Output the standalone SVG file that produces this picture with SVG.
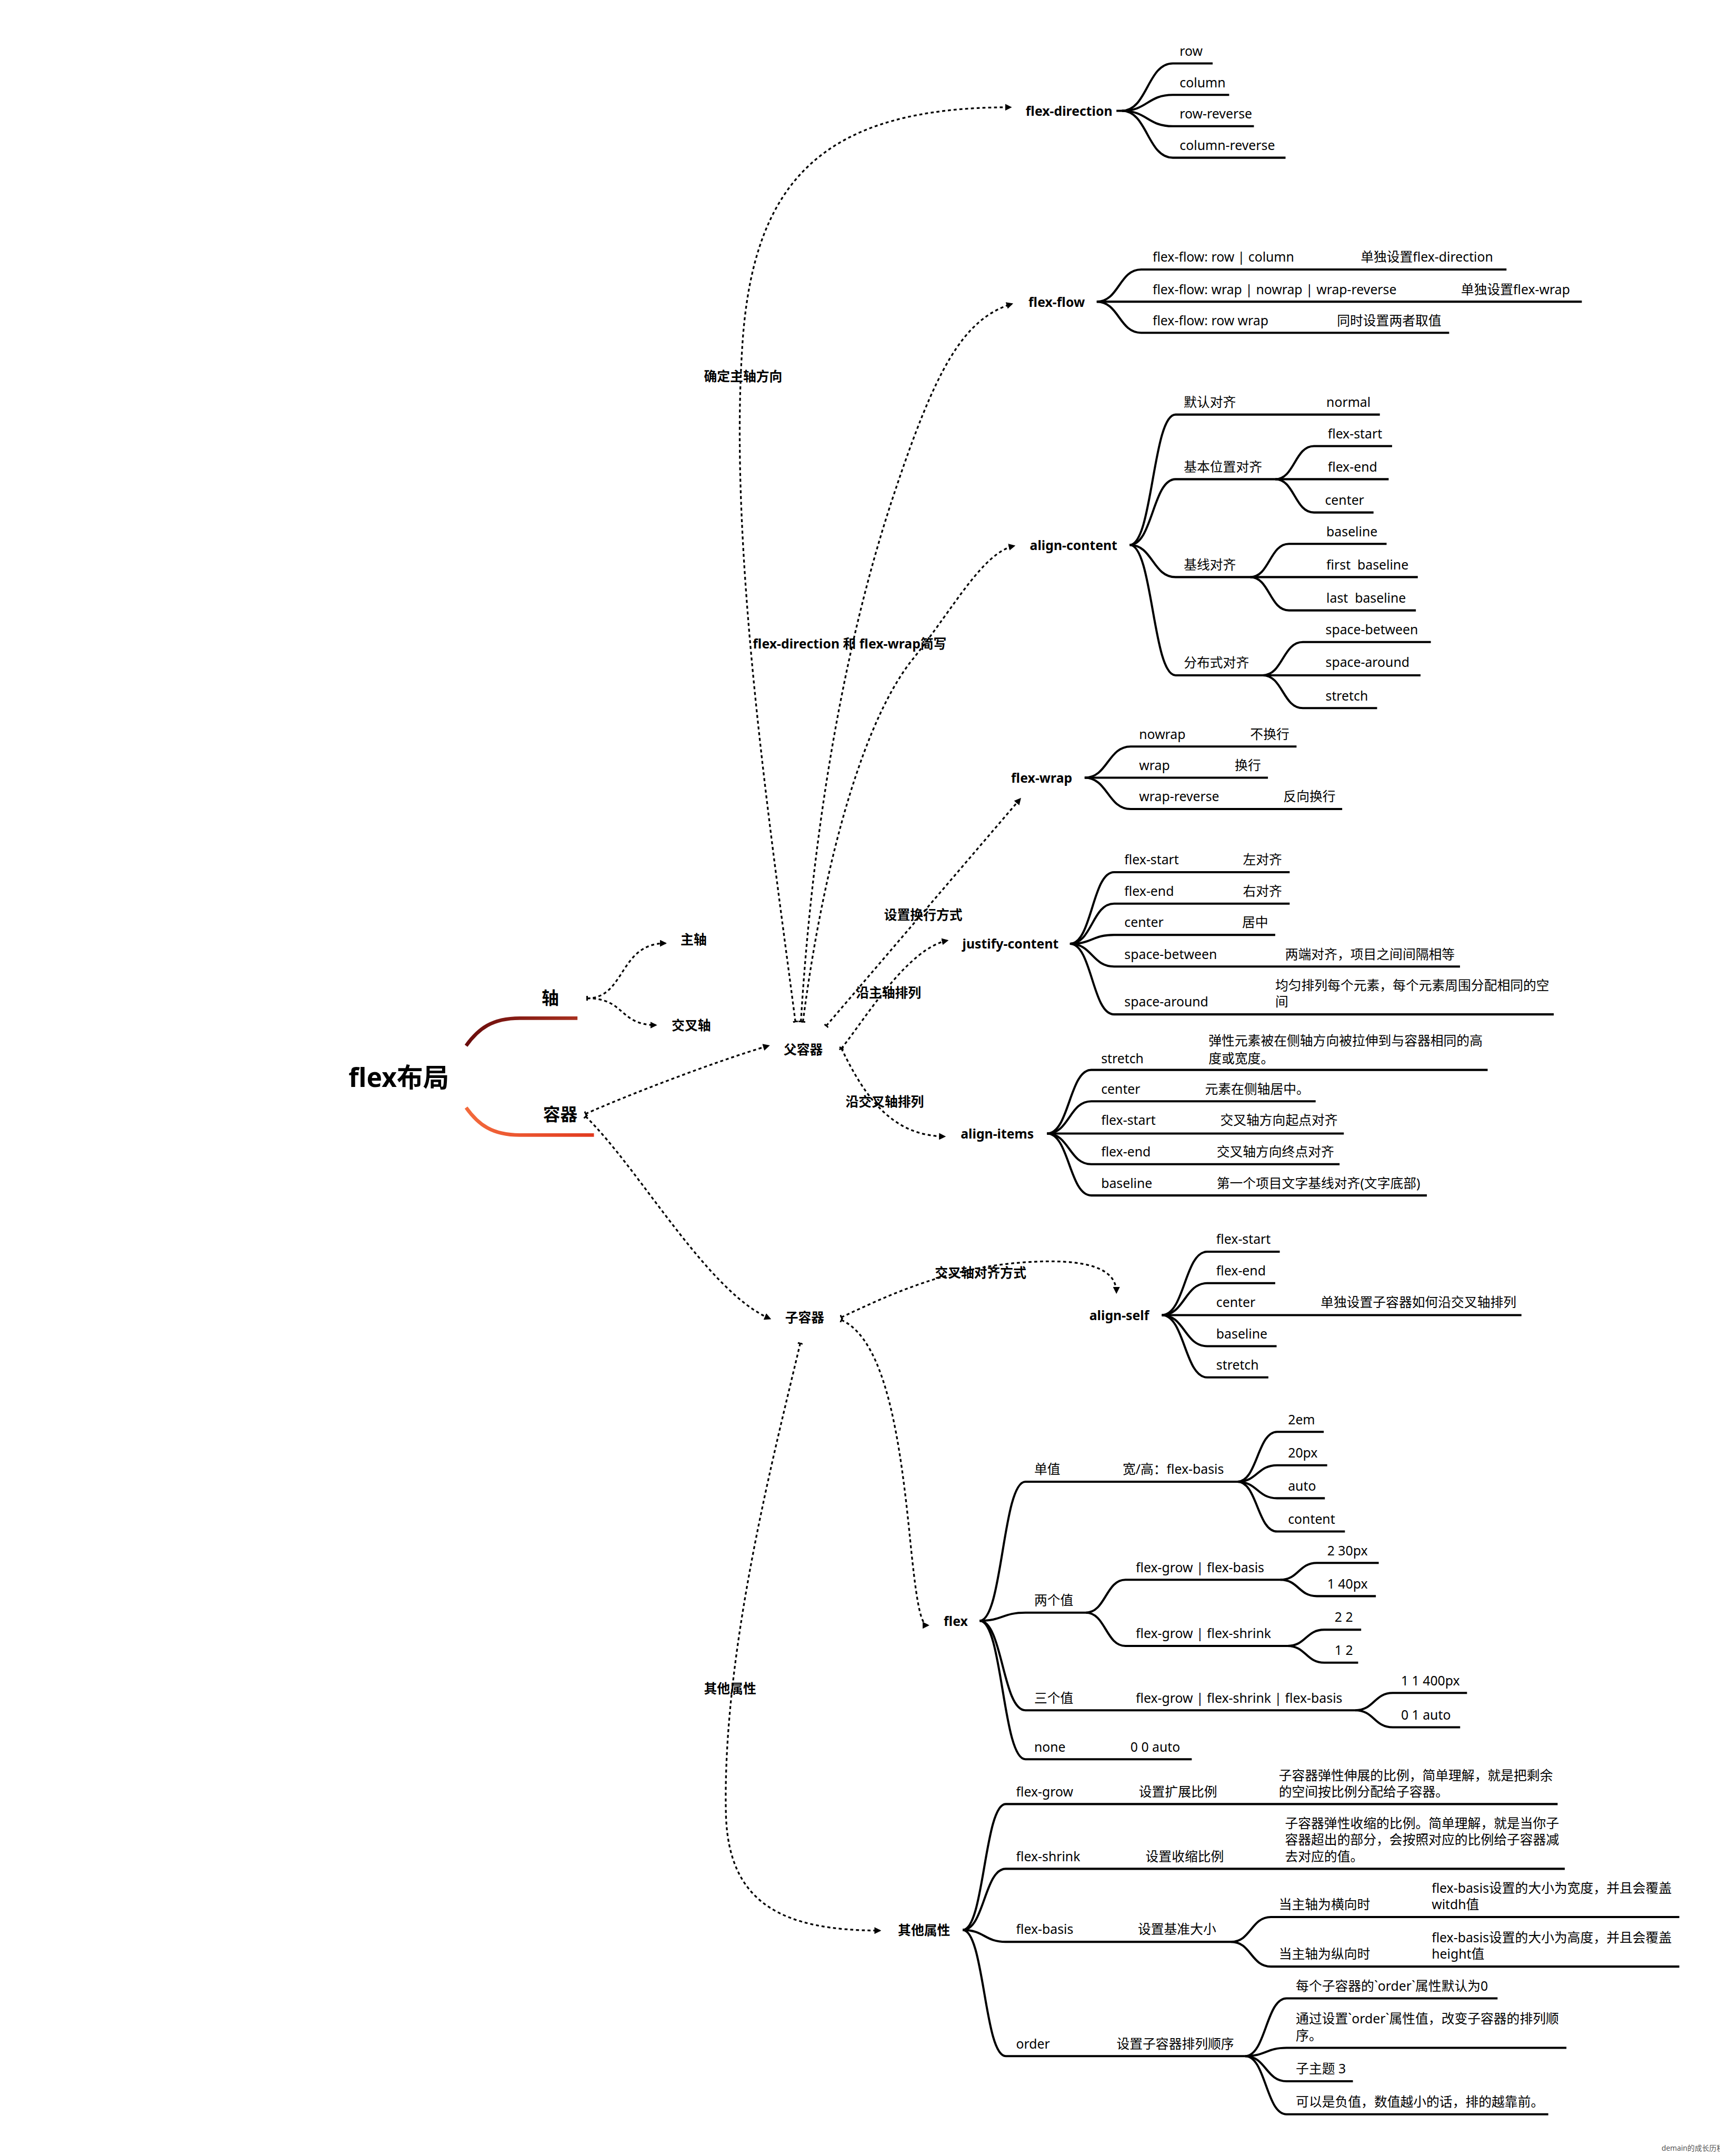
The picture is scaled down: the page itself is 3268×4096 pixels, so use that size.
<svg xmlns="http://www.w3.org/2000/svg" width="3268" height="4096" viewBox="0 0 3268 4096">
<defs>
<style>
.t{font-family:"Noto Sans","Noto Sans CJK SC",sans-serif;font-size:9.5px;fill:#000}
.b{font-weight:700}
.br{fill:none;stroke:#000;stroke-width:1.55;stroke-linecap:butt}
.rel{fill:none;stroke:#000;stroke-width:1.25;stroke-dasharray:2.2 2;marker-start:url(#tick);marker-end:url(#arr)}
</style>
<marker id="arr" viewBox="0 0 10 10" refX="8" refY="5" markerWidth="5" markerHeight="5" markerUnits="userSpaceOnUse" orient="auto"><path d="M0,0 L10,5 L0,10 z" fill="#000"/></marker>
<marker id="tick" viewBox="-1 -3 2 6" refX="0" refY="0" markerWidth="1.2" markerHeight="3.6" markerUnits="userSpaceOnUse" orient="auto"><rect x="-1" y="-3" width="2" height="6" fill="#000"/></marker>
<linearGradient id="gU" x1="0" y1="0" x2="1" y2="0"><stop offset="0" stop-color="#6a0c0c"/><stop offset="1" stop-color="#a8301f"/></linearGradient>
<linearGradient id="gL" x1="0" y1="0" x2="1" y2="0"><stop offset="0" stop-color="#f36a3c"/><stop offset="1" stop-color="#e13a1f"/></linearGradient>
</defs>
<rect width="3268" height="4096" fill="#fff"/>
<g transform="scale(2.61231)">
<g id="connectors">
<path d="M339,760.5 C348,748 358,740.5 378,740.5 L420,740.5" fill="none" stroke="url(#gU)" stroke-width="2.6"/>
<path d="M339,805.5 C348,818 358,825.5 378,825.5 L432,825.5" fill="none" stroke="url(#gL)" stroke-width="2.6"/>
<g id="relations">
<path class="rel" d="M427,726 C455,726 450,686 484,686"/>
<path class="rel" d="M427,726 C455,726 450,745.5 477,745.5"/>
<path class="rel" d="M426,810 C455,797 520,772 559,760.5"/>
<path class="rel" d="M426,812 C465,850 515,940 560,959"/>
<path class="rel" d="M578.5,743 C560,600 530,400 540,250 C548,130 600,78 735,78"/>
<path class="rel" d="M582.5,743 C590,620 610,480 650,360 C680,270 700,232 736,221"/>
<path class="rel" d="M584,743 C600,620 630,520 665,478 C695,440 715,402 737.6,397"/>
<path class="rel" d="M601,746 L742,581"/>
<path class="rel" d="M612,762.5 C630,740 660,690 689,684"/>
<path class="rel" d="M612,762.5 C630,800 650,826 687,826.5"/>
<path class="rel" d="M612,958 C650,940 690,922 745,918 C790,915 812,922 812,940"/>
<path class="rel" d="M612,960 C645,975 655,1050 662,1120 C667,1170 670,1182 675,1182"/>
<path class="rel" d="M582,977 C565,1050 525,1200 528,1320 C530,1385 570,1404 640,1404"/>
</g>
<g id="branches">
<path class="br" d="M812,80.6H816"/>
<path class="br" d="M816,80.6C834.5,80.6 834.5,46.1 853,46.1H882"/>
<path class="br" d="M816,80.6C834.5,80.6 834.5,69 853,69H894"/>
<path class="br" d="M816,80.6C834.5,80.6 834.5,91.8 853,91.8H912"/>
<path class="br" d="M816,80.6C834.5,80.6 834.5,114.7 853,114.7H935"/>

<path class="br" d="M797.7,219.4C813.9,219.4 813.9,196 830,196H1095.7"/>
<path class="br" d="M797.7,219.4H1150.5"/>
<path class="br" d="M797.7,219.4C813.9,219.4 813.9,242 830,242H1054"/>

<path class="br" d="M821.7,396.3C838.4,396.3 838.4,301.5 855,301.5H1003.6"/>
<path class="br" d="M821.7,396.3C838.4,396.3 838.4,348.5 855,348.5H927.5"/>
<path class="br" d="M821.7,396.3C838.4,396.3 838.4,419.7 855,419.7H909.3"/>
<path class="br" d="M821.7,396.3C838.4,396.3 838.4,491.1 855,491.1H918.4"/>
<path class="br" d="M927.5,348.5C941.6,348.5 941.6,324.4 955.7,324.4H1012.5"/>
<path class="br" d="M927.5,348.5H1010"/>
<path class="br" d="M927.5,348.5C941.6,348.5 941.6,372.7 955.7,372.7H999"/>
<path class="br" d="M909.3,419.7C923.4,419.7 923.4,395.5 937.5,395.5H1008.5"/>
<path class="br" d="M909.3,419.7H1031.2"/>
<path class="br" d="M909.3,419.7C923.4,419.7 923.4,443.9 937.5,443.9H1029.8"/>
<path class="br" d="M918.4,491.1C933,491.1 933,466.9 947.6,466.9H1040.7"/>
<path class="br" d="M918.4,491.1H1033.2"/>
<path class="br" d="M918.4,491.1C933,491.1 933,515 947.6,515H1001.6"/>

<path class="br" d="M788.9,565.6C805.7,565.6 805.7,542.9 822.4,542.9H943"/>
<path class="br" d="M788.9,565.6H922.2"/>
<path class="br" d="M788.9,565.6C805.7,565.6 805.7,588.4 822.4,588.4H976.2"/>

<path class="br" d="M778.2,686.4C794.3,686.4 794.3,634.3 810.3,634.3H938"/>
<path class="br" d="M778.2,686.4C794.3,686.4 794.3,657.2 810.3,657.2H938"/>
<path class="br" d="M778.2,686.4C794.3,686.4 794.3,679.9 810.3,679.9H927.5"/>
<path class="br" d="M778.2,686.4C794.3,686.4 794.3,702.9 810.3,702.9H1061.9"/>
<path class="br" d="M778.2,686.4C794.3,686.4 794.3,737.7 810.3,737.7H1130.1"/>

<path class="br" d="M761.6,824.4C777.7,824.4 777.7,778.1 793.7,778.1H1082"/>
<path class="br" d="M761.6,824.4C777.7,824.4 777.7,800.9 793.7,800.9H956.9"/>
<path class="br" d="M761.6,824.4H977.4"/>
<path class="br" d="M761.6,824.4C777.7,824.4 777.7,846.7 793.7,846.7H974.3"/>
<path class="br" d="M761.6,824.4C777.7,824.4 777.7,869.4 793.7,869.4H1037.8"/>

<path class="br" d="M845.1,956.4C861.6,956.4 861.6,910.3 878,910.3H930.8"/>
<path class="br" d="M845.1,956.4C861.6,956.4 861.6,933.2 878,933.2H927.5"/>
<path class="br" d="M845.1,956.4H1106.6"/>
<path class="br" d="M845.1,956.4C861.6,956.4 861.6,979 878,979H928.5"/>
<path class="br" d="M845.1,956.4C861.6,956.4 861.6,1001.7 878,1001.7H922.5"/>

<path class="br" d="M712.6,1178.7C729.2,1178.7 729.2,1077.6 745.8,1077.6H900"/>
<path class="br" d="M712.6,1178.7C729.2,1178.7 729.2,1172.8 745.8,1172.8H789.7"/>
<path class="br" d="M712.6,1178.7C729.2,1178.7 729.2,1243.8 745.8,1243.8H985.7"/>
<path class="br" d="M712.6,1178.7C729.2,1178.7 729.2,1279.4 745.8,1279.4H866.8"/>
<path class="br" d="M900,1077.6C914.5,1077.6 914.5,1041.3 928.9,1041.3H962.8"/>
<path class="br" d="M900,1077.6C914.5,1077.6 914.5,1065.6 928.9,1065.6H965.3"/>
<path class="br" d="M900,1077.6C914.5,1077.6 914.5,1089.6 928.9,1089.6H963.6"/>
<path class="br" d="M900,1077.6C914.5,1077.6 914.5,1113.8 928.9,1113.8H978.2"/>
<path class="br" d="M789.7,1172.8C804.2,1172.8 804.2,1148.9 818.6,1148.9H931.1"/>
<path class="br" d="M789.7,1172.8C804.2,1172.8 804.2,1197 818.6,1197H936.4"/>
<path class="br" d="M931.1,1148.9C944.5,1148.9 944.5,1136.6 957.8,1136.6H1002.8"/>
<path class="br" d="M931.1,1148.9C944.5,1148.9 944.5,1160.8 957.8,1160.8H1000.7"/>
<path class="br" d="M936.4,1197C949.8,1197 949.8,1185.2 963.2,1185.2H990"/>
<path class="br" d="M936.4,1197C949.8,1197 949.8,1209.2 963.2,1209.2H987.8"/>
<path class="br" d="M985.7,1243.8C999.4,1243.8 999.4,1231.2 1013,1231.2H1067"/>
<path class="br" d="M985.7,1243.8C999.4,1243.8 999.4,1256.2 1013,1256.2H1062"/>

<path class="br" d="M700.2,1403.6C715.9,1403.6 715.9,1312 731.5,1312H1132.9"/>
<path class="br" d="M700.2,1403.6C715.9,1403.6 715.9,1359.1 731.5,1359.1H1138.1"/>
<path class="br" d="M700.2,1403.6C715.9,1403.6 715.9,1412.2 731.5,1412.2H895.4"/>
<path class="br" d="M700.2,1403.6C715.9,1403.6 715.9,1495.3 731.5,1495.3H905.6"/>
<path class="br" d="M895.4,1412.2C909.9,1412.2 909.9,1394.2 924.4,1394.2H1221.4"/>
<path class="br" d="M895.4,1412.2C909.9,1412.2 909.9,1430.2 924.4,1430.2H1221.4"/>
<path class="br" d="M905.6,1495.3C920.7,1495.3 920.7,1453.3 935.8,1453.3H1089.2"/>
<path class="br" d="M905.6,1495.3C920.7,1495.3 920.7,1489.3 935.8,1489.3H1139.3"/>
<path class="br" d="M905.6,1495.3C920.7,1495.3 920.7,1513.6 935.8,1513.6H984"/>
<path class="br" d="M905.6,1495.3C920.7,1495.3 920.7,1537.6 935.8,1537.6H1126.1"/>
</g>
</g>

<g id="labels">
<text class="t b" x="512" y="277.1">确定主轴方向</text>
<text class="t b" x="547.5" y="471.6">flex-direction 和 flex-wrap简写</text>
<text class="t b" x="643" y="668.6">设置换行方式</text>
<text class="t b" x="622.5" y="725.6">沿主轴排列</text>
<text class="t b" x="615" y="804.6">沿交叉轴排列</text>
<text class="t b" x="680" y="929.1">交叉轴对齐方式</text>
<text class="t b" x="512" y="1231.6">其他属性</text>
</g>

<g id="n-root"><text class="t b" x="253.5" y="790.5" style="font-size:19px">flex布局</text></g>
<g id="n-axis"><text class="t b" x="394" y="730.3" style="font-size:12.5px">轴</text></g>
<g id="n-container"><text class="t b" x="395" y="814.8" style="font-size:12.5px">容器</text></g>
<g id="n-main-axis"><text class="t b" x="495" y="686.6">主轴</text></g>
<g id="n-cross-axis"><text class="t b" x="488.5" y="749.1">交叉轴</text></g>
<g id="n-parent"><text class="t b" x="570" y="766.6">父容器</text></g>
<g id="n-child"><text class="t b" x="571" y="961.6">子容器</text></g>

<g id="n-flex-direction">
<text class="t b" x="746" y="84.2">flex-direction</text>
<text class="t" x="858" y="40.5">row</text>
<text class="t" x="858" y="63.4">column</text>
<text class="t" x="858" y="86.2">row-reverse</text>
<text class="t" x="858" y="109.1">column-reverse</text>
</g>

<g id="n-flex-flow">
<text class="t b" x="748" y="223">flex-flow</text>
<text class="t" x="838.3" y="190.4">flex-flow: row | column</text>
<text class="t" x="989.6" y="190.4">单独设置flex-direction</text>
<text class="t" x="838.3" y="213.8">flex-flow: wrap | nowrap | wrap-reverse</text>
<text class="t" x="1062.6" y="213.8">单独设置flex-wrap</text>
<text class="t" x="838.3" y="236.4">flex-flow: row wrap</text>
<text class="t" x="972.4" y="236.4">同时设置两者取值</text>
</g>

<g id="n-align-content">
<text class="t b" x="749" y="399.9">align-content</text>
<text class="t" x="861" y="295.9">默认对齐</text>
<text class="t" x="964.7" y="295.9">normal</text>
<text class="t" x="861" y="342.9">基本位置对齐</text>
<text class="t" x="965.7" y="318.8">flex-start</text>
<text class="t" x="965.7" y="342.9">flex-end</text>
<text class="t" x="963.7" y="367.1">center</text>
<text class="t" x="861" y="414.1">基线对齐</text>
<text class="t" x="964.7" y="389.9">baseline</text>
<text class="t" x="964.7" y="414.1" xml:space="preserve">first  baseline</text>
<text class="t" x="964.7" y="438.3" xml:space="preserve">last  baseline</text>
<text class="t" x="861" y="485.5">分布式对齐</text>
<text class="t" x="964.1" y="461.3">space-between</text>
<text class="t" x="964.1" y="485.2">space-around</text>
<text class="t" x="964.1" y="509.4">stretch</text>
</g>

<g id="n-flex-wrap">
<text class="t b" x="735.4" y="569.2">flex-wrap</text>
<text class="t" x="828.5" y="537.3">nowrap</text>
<text class="t" x="909.3" y="537.3">不换行</text>
<text class="t" x="828.5" y="560">wrap</text>
<text class="t" x="898.1" y="560">换行</text>
<text class="t" x="828.5" y="582.8">wrap-reverse</text>
<text class="t" x="933.4" y="582.8">反向换行</text>
</g>

<g id="n-justify-content">
<text class="t b" x="700" y="690">justify-content</text>
<text class="t" x="817.8" y="628.7">flex-start</text>
<text class="t" x="904" y="628.7">左对齐</text>
<text class="t" x="817.8" y="651.6">flex-end</text>
<text class="t" x="904" y="651.6">右对齐</text>
<text class="t" x="817.8" y="674.3">center</text>
<text class="t" x="903.4" y="674.3">居中</text>
<text class="t" x="817.8" y="697.3">space-between</text>
<text class="t" x="934.7" y="697.3">两端对齐，项目之间间隔相等</text>
<text class="t" x="817.8" y="732.1">space-around</text>
<text class="t" x="927.5" y="719.9">均匀排列每个元素，每个元素周围分配相同的空</text>
<text class="t" x="927.5" y="732.1">间</text>
</g>

<g id="n-align-items">
<text class="t b" x="698.7" y="828">align-items</text>
<text class="t" x="800.9" y="773.1">stretch</text>
<text class="t" x="879" y="760.2">弹性元素被在侧轴方向被拉伸到与容器相同的高</text>
<text class="t" x="879" y="773.1">度或宽度。</text>
<text class="t" x="800.9" y="795.3">center</text>
<text class="t" x="876.4" y="795.3">元素在侧轴居中。</text>
<text class="t" x="800.9" y="818.2">flex-start</text>
<text class="t" x="887.5" y="818.2">交叉轴方向起点对齐</text>
<text class="t" x="800.9" y="841.1">flex-end</text>
<text class="t" x="884.9" y="841.1">交叉轴方向终点对齐</text>
<text class="t" x="800.9" y="863.8">baseline</text>
<text class="t" x="884.9" y="863.8">第一个项目文字基线对齐(文字底部)</text>
</g>

<g id="n-align-self">
<text class="t b" x="792.3" y="960">align-self</text>
<text class="t" x="884.6" y="904.7">flex-start</text>
<text class="t" x="884.6" y="927.6">flex-end</text>
<text class="t" x="884.6" y="950.5">center</text>
<text class="t" x="960.5" y="950.5">单独设置子容器如何沿交叉轴排列</text>
<text class="t" x="884.6" y="973.4">baseline</text>
<text class="t" x="884.6" y="996.1">stretch</text>
</g>

<g id="n-flex">
<text class="t b" x="686.4" y="1182.3">flex</text>
<text class="t" x="752.2" y="1072">单值</text>
<text class="t" x="816.5" y="1072">宽/高：flex-basis</text>
<text class="t" x="936.8" y="1035.7">2em</text>
<text class="t" x="936.8" y="1060">20px</text>
<text class="t" x="936.8" y="1084">auto</text>
<text class="t" x="936.8" y="1108.2">content</text>
<text class="t" x="752.2" y="1167.2">两个值</text>
<text class="t" x="826.1" y="1143.3">flex-grow | flex-basis</text>
<text class="t" x="965.3" y="1131">2 30px</text>
<text class="t" x="965.3" y="1155.2">1 40px</text>
<text class="t" x="826.1" y="1191.4">flex-grow | flex-shrink</text>
<text class="t" x="970.7" y="1179.6">2 2</text>
<text class="t" x="970.7" y="1203.6">1 2</text>
<text class="t" x="752.2" y="1238.2">三个值</text>
<text class="t" x="826.1" y="1238.2">flex-grow | flex-shrink | flex-basis</text>
<text class="t" x="1019" y="1225.6">1 1 400px</text>
<text class="t" x="1019" y="1250.6">0 1 auto</text>
<text class="t" x="752.2" y="1273.8">none</text>
<text class="t" x="822.2" y="1273.8">0 0 auto</text>
</g>

<g id="n-other">
<text class="t b" x="653.1" y="1407.2">其他属性</text>
<text class="t" x="739" y="1306.4">flex-grow</text>
<text class="t" x="828.3" y="1306.4">设置扩展比例</text>
<text class="t" x="930.1" y="1294.7">子容器弹性伸展的比例，简单理解，就是把剩余</text>
<text class="t" x="930.1" y="1306.4">的空间按比例分配给子容器。</text>
<text class="t" x="739" y="1353.5">flex-shrink</text>
<text class="t" x="833.2" y="1353.5">设置收缩比例</text>
<text class="t" x="934.6" y="1329.3">子容器弹性收缩的比例。简单理解，就是当你子</text>
<text class="t" x="934.6" y="1341.4">容器超出的部分，会按照对应的比例给子容器减</text>
<text class="t" x="934.6" y="1353.5">去对应的值。</text>
<text class="t" x="739" y="1406.6">flex-basis</text>
<text class="t" x="827.6" y="1406.6">设置基准大小</text>
<text class="t" x="930.1" y="1388.6">当主轴为横向时</text>
<text class="t" x="1041.3" y="1376.4">flex-basis设置的大小为宽度，并且会覆盖</text>
<text class="t" x="1041.3" y="1388.6">witdh值</text>
<text class="t" x="930.1" y="1424.6">当主轴为纵向时</text>
<text class="t" x="1041.3" y="1412.4">flex-basis设置的大小为高度，并且会覆盖</text>
<text class="t" x="1041.3" y="1424.6">height值</text>
<text class="t" x="739" y="1489.7">order</text>
<text class="t" x="812.1" y="1489.7">设置子容器排列顺序</text>
<text class="t" x="942.5" y="1447.7">每个子容器的`order`属性默认为0</text>
<text class="t" x="942.5" y="1471.5">通过设置`order`属性值，改变子容器的排列顺</text>
<text class="t" x="942.5" y="1483.7">序。</text>
<text class="t" x="942.5" y="1508">子主题 3</text>
<text class="t" x="942.5" y="1532">可以是负值，数值越小的话，排的越靠前。</text>
</g>

<g id="watermark"><text class="t" x="1208.5" y="1564" style="font-size:5.3px;fill:#555">demain的成长历程</text></g>
</g>
</svg>
